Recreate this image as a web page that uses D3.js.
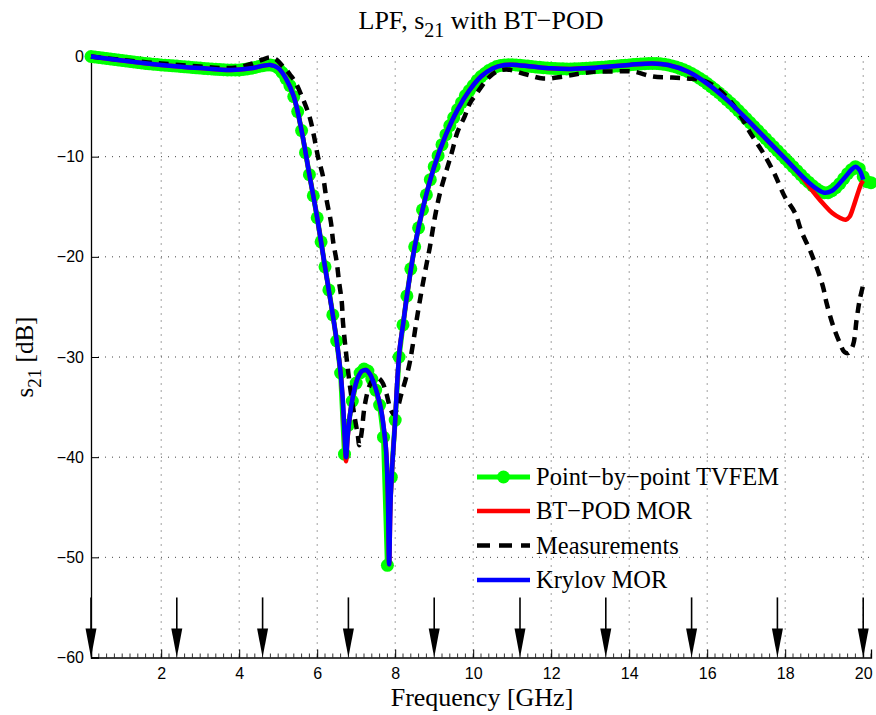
<!DOCTYPE html>
<html>
<head>
<meta charset="utf-8">
<script src="https://cdn.jsdelivr.net/npm/d3@7"></script>
<style>
  body { margin: 0; background: #fff; }
</style>
</head>
<body>
<div id="chart"></div>
<script>
// ---- data ----
// TVFEM sweep: 0.2 .. 20.2 GHz, 0.1 GHz step
var tvfemFreq = d3.range(0, 201).map(i => Math.round((0.2 + i * 0.1) * 10) / 10);
var tvfemDb = [
  0.0, -0.05, -0.1, -0.15, -0.2, -0.25, -0.3, -0.35, -0.4, -0.45,
  -0.5, -0.55, -0.6, -0.65, -0.7, -0.73, -0.77, -0.8, -0.84, -0.87,
  -0.9, -0.93, -0.96, -1.0, -1.03, -1.06, -1.1, -1.13, -1.16, -1.19,
  -1.22, -1.25, -1.28, -1.3, -1.32, -1.34, -1.35, -1.35, -1.34, -1.3,
  -1.25, -1.18, -1.1, -1.0, -0.92, -0.86, -0.84, -0.92, -1.15, -1.6,
  -2.2, -2.9, -4.0, -5.5, -7.4, -9.6, -11.8, -13.9, -16.1, -18.5,
  -21.0, -23.3, -25.8, -28.4, -31.6, -39.7, -36.8, -34.4, -32.6, -31.6,
  -31.2, -31.4, -32.2, -33.3, -34.8, -38.0, -50.8, -42.0, -36.3, -30.0,
  -26.8, -23.9, -21.2, -19.0, -17.1, -15.3, -13.8, -12.3, -11.0, -9.9,
  -8.8, -7.8, -6.9, -6.1, -5.3, -4.6, -3.9, -3.4, -2.9, -2.4,
  -2.0, -1.7, -1.4, -1.2, -1.0, -0.9, -0.85, -0.82, -0.82, -0.85,
  -0.88, -0.92, -0.96, -1.0, -1.04, -1.08, -1.12, -1.15, -1.18, -1.2,
  -1.22, -1.23, -1.24, -1.24, -1.23, -1.22, -1.2, -1.18, -1.16, -1.13,
  -1.1, -1.07, -1.04, -1.0, -0.97, -0.94, -0.9, -0.87, -0.84, -0.8,
  -0.77, -0.74, -0.72, -0.7, -0.69, -0.7, -0.73, -0.78, -0.85, -0.94,
  -1.05, -1.18, -1.33, -1.5, -1.7, -1.92, -2.16, -2.42, -2.7, -3.0,
  -3.3, -3.62, -3.95, -4.3, -4.65, -5.0, -5.4, -5.8, -6.2, -6.6,
  -7.0, -7.4, -7.8, -8.2, -8.6, -9.0, -9.4, -9.8, -10.2, -10.6,
  -11.0, -11.4, -11.8, -12.2, -12.55, -12.9, -13.2, -13.45, -13.6, -13.6,
  -13.4, -13.1, -12.7, -12.2, -11.7, -11.3, -11.0, -11.2, -12.0, -12.5,
  -12.6
];

var krylovFreq = [0.2, 1, 2, 3, 3.8, 4.3, 4.8, 5.0, 5.2, 5.4, 5.6, 5.8, 6.0, 6.2, 6.4, 6.5, 6.6, 6.66, 6.7, 6.74,
  6.78, 6.85, 6.95, 7.05, 7.15, 7.25, 7.35, 7.45, 7.55, 7.65, 7.72, 7.77, 7.81, 7.845, 7.88, 7.93, 8.0, 8.06, 8.12, 8.2,
  8.3, 8.5, 8.7, 9.0, 9.3, 9.6, 9.9, 10.2, 10.5, 10.8, 11.0, 11.5, 12.0, 12.5, 13.0, 13.5, 14.0, 14.6, 15.0, 15.5,
  16.0, 16.5, 17.0, 17.5, 18.0, 18.5, 18.8, 19.0, 19.2, 19.5, 19.7, 19.8, 19.9, 20.0];
var krylovDb = [0, -0.4, -0.84, -1.16, -1.35, -1.18, -0.84, -1.15, -2.2, -4.0, -7.4, -11.8, -16.1, -21.0, -25.8, -28.4, -31.6, -34.5, -37.5, -40.0,
  -38.0, -35.5, -33.3, -32.0, -31.4, -31.3, -31.7, -32.6, -33.8, -35.5, -37.5, -39.5, -43.5, -50.7, -44.5, -40.5, -36.3, -32.0, -29.0, -26.8,
  -23.9, -19.0, -15.3, -11.0, -7.8, -5.3, -3.4, -2.0, -1.2, -0.85, -0.82, -1.0, -1.18, -1.24, -1.16, -1.0, -0.84, -0.69, -0.85, -1.5,
  -2.7, -4.3, -6.2, -8.2, -10.2, -12.2, -13.2, -13.6, -13.4, -12.2, -11.3, -11.0, -11.3, -12.3];

var btpodFreq = [0.2, 1, 2, 3, 3.8, 4.3, 4.8, 5.0, 5.2, 5.4, 5.6, 5.8, 6.0, 6.2, 6.4, 6.5, 6.6, 6.66, 6.7, 6.74,
  6.78, 6.85, 6.95, 7.05, 7.15, 7.25, 7.35, 7.45, 7.55, 7.65, 7.72, 7.77, 7.81, 7.845, 7.88, 7.93, 8.0, 8.06, 8.12, 8.2,
  8.3, 8.5, 8.7, 9.0, 9.3, 9.6, 9.9, 10.2, 10.5, 10.8, 11.0, 11.5, 12.0, 12.5, 13.0, 13.5, 14.0, 14.6, 15.0, 15.5,
  16.0, 16.5, 17.0, 17.5, 18.0, 18.4, 18.6, 18.8, 19.0, 19.2, 19.4, 19.55, 19.65, 19.75, 19.85, 19.95, 20.0];
var btpodDb = [0, -0.4, -0.84, -1.16, -1.35, -1.18, -0.84, -1.15, -2.2, -4.0, -7.4, -11.8, -16.1, -21.0, -25.8, -28.4, -31.6, -34.6, -37.7, -40.4,
  -38.1, -35.5, -33.3, -32.0, -31.4, -31.3, -31.7, -32.6, -33.8, -35.5, -37.5, -39.5, -43.5, -50.7, -44.5, -40.5, -36.3, -32.0, -29.0, -26.8,
  -23.9, -19.0, -15.3, -11.0, -7.8, -5.3, -3.4, -2.0, -1.2, -0.85, -0.82, -1.0, -1.18, -1.24, -1.16, -1.0, -0.84, -0.69, -0.85, -1.5,
  -2.7, -4.3, -6.2, -8.2, -10.2, -11.9, -12.9, -13.9, -14.8, -15.6, -16.1, -16.3, -16.0, -15.0, -13.8, -12.7, -12.4];

var measFreq = [0.2, 1.0, 2.0, 3.0, 3.6, 4.0, 4.3, 4.6, 4.8, 4.95, 5.1, 5.2, 5.3, 5.43, 5.64, 5.81, 5.92, 6.02, 6.15, 6.24,
  6.35, 6.41, 6.5, 6.56, 6.63, 6.66, 6.71, 6.78, 6.86, 6.96, 7.04, 7.08, 7.14, 7.22, 7.35, 7.5, 7.65, 7.77, 7.88, 7.96,
  8.05, 8.15, 8.27, 8.36, 8.43, 8.55, 8.68, 8.81, 8.89, 9.02, 9.15, 9.32, 9.45, 9.6, 9.78, 9.91, 10.09, 10.35, 10.6, 10.86,
  11.37, 11.8, 12.3, 12.74, 13.17, 13.6, 14.1, 14.6, 15.1, 15.5, 15.9, 16.2, 16.58, 16.85, 17.1, 17.4, 17.7, 17.99, 18.25, 18.42,
  18.63, 18.8, 18.97, 19.06, 19.23, 19.4, 19.52, 19.62, 19.74, 19.83, 19.91, 20.0];
var measDb = [0, -0.35, -0.7, -1.0, -1.15, -1.05, -0.75, -0.3, -0.1, -0.3, -0.9, -1.3, -1.8, -2.5, -4.3, -6.1, -8.0, -10.0, -12.0, -14.3,
  -16.5, -18.5, -20.5, -22.5, -24.5, -26.5, -28.5, -31.0, -33.5, -36.0, -37.8, -38.8, -37.5, -34.8, -32.8, -32.0, -32.4, -33.6, -35.2, -35.7,
  -35.2, -33.8, -32.2, -30.8, -29.3, -26.3, -23.3, -20.6, -19.0, -16.0, -13.6, -11.3, -9.6, -7.5, -6.0, -4.7, -3.7, -2.3, -1.5, -1.3,
  -1.8, -2.2, -2.0, -1.7, -1.5, -1.5, -1.5, -2.0, -2.1, -2.2, -2.4, -3.0, -4.4, -5.9, -7.6, -9.4, -11.5, -14.0, -15.6, -17.5,
  -19.3, -21.0, -23.0, -24.6, -26.9, -28.6, -29.5, -29.6, -28.8, -26.3, -24.3, -22.8];

// expansion points (arrows)
var arrowFreq = [0.2, 2.4, 4.6, 6.8, 9.0, 11.2, 13.4, 15.6, 17.8, 20.0];

var xTicks = [2, 4, 6, 8, 10, 12, 14, 16, 18, 20];
var yTicks = [0, -10, -20, -30, -40, -50, -60];
var legendNames = ["Point\u2212by\u2212point TVFEM", "BT\u2212POD MOR", "Measurements", "Krylov MOR"];

// ---- canvas ----
var width = 876, height = 715;
var serif = "'Liberation Serif', 'Times New Roman', serif";
var svg = d3.select("#chart").append("svg")
    .attr("width", width)
    .attr("height", height)
    .style("font-family", "'Liberation Sans', Arial, sans-serif");

var x = d3.scaleLinear().domain([0.2, 20.2]).range([91, 871]);
var y = d3.scaleLinear().domain([-60, 0]).range([657.5, 56.5]);

// grid
var grid = svg.append("g").attr("stroke", "#444").attr("stroke-width", 1).attr("stroke-dasharray", "1,6");
grid.selectAll("line.gx").data(xTicks).join("line")
    .attr("x1", d => x(d)).attr("x2", d => x(d))
    .attr("y1", y(-60)).attr("y2", y(0));
grid.selectAll("line.gy").data(yTicks.slice(0, -1)).join("line")
    .attr("x1", x(0.2)).attr("x2", x(20.2))
    .attr("y1", d => y(d)).attr("y2", d => y(d));

// axes
var xAxis = svg.append("g")
    .attr("transform", "translate(0," + y(-60) + ")")
    .call(d3.axisBottom(x).tickValues(xTicks).tickSize(-8).tickPadding(10).tickFormat(d3.format("d")));
var yAxis = svg.append("g")
    .attr("transform", "translate(" + x(0.2) + ",0)")
    .call(d3.axisLeft(y).tickValues(yTicks).tickSize(-8).tickPadding(7));
[xAxis, yAxis].forEach(a => {
  a.select(".domain").attr("stroke", "#000").attr("stroke-width", 1.3);
  a.selectAll(".tick line").attr("stroke", "#000");
  a.selectAll(".tick text").attr("font-size", 16).attr("fill", "#000")
    .attr("font-family", "'Liberation Sans', Arial, sans-serif");
});
// minor ticks
svg.append("g").selectAll("line")
    .data(d3.range(1, 101).map(i => 0.2 + i * 0.2))
    .join("line")
    .attr("x1", d => x(d)).attr("x2", d => x(d))
    .attr("y1", y(-60)).attr("y2", y(-60) - 4)
    .attr("stroke", "#000").attr("stroke-width", 0.8);

// ---- series ----
function pairs(fs, vs) { return fs.map((f, i) => [f, vs[i]]); }

var lineLin = d3.line().x(d => x(d[0])).y(d => y(d[1]));
var lineSmooth = d3.line().x(d => x(d[0])).y(d => y(d[1])).curve(d3.curveCatmullRom.alpha(0.5));

var tvfem = pairs(tvfemFreq, tvfemDb);
svg.append("path").datum(tvfem)
    .attr("d", lineLin)
    .attr("fill", "none").attr("stroke", "#00ff00").attr("stroke-width", 5)
    .attr("stroke-linejoin", "round");
svg.append("g").selectAll("circle").data(tvfem).join("circle")
    .attr("cx", d => x(d[0])).attr("cy", d => y(d[1]))
    .attr("r", 6.5).attr("fill", "#00ff00");

svg.append("path").datum(pairs(btpodFreq, btpodDb))
    .attr("d", lineSmooth)
    .attr("fill", "none").attr("stroke", "#ff0000").attr("stroke-width", 4.5)
    .attr("stroke-linejoin", "round");

svg.append("path").datum(pairs(measFreq, measDb))
    .attr("d", lineSmooth)
    .attr("fill", "none").attr("stroke", "#000").attr("stroke-width", 4.5)
    .attr("stroke-dasharray", "10,7");

svg.append("path").datum(pairs(krylovFreq, krylovDb))
    .attr("d", lineSmooth)
    .attr("fill", "none").attr("stroke", "#0000ff").attr("stroke-width", 4.5)
    .attr("stroke-linejoin", "round");

// arrows
var arr = svg.append("g").selectAll("g").data(arrowFreq).join("g");
arr.append("line")
    .attr("x1", d => x(d)).attr("x2", d => x(d))
    .attr("y1", y(-54)).attr("y2", y(-58))
    .attr("stroke", "#000").attr("stroke-width", 1.6);
arr.append("path")
    .attr("d", d => "M" + (x(d) - 5.5) + "," + (y(-60) - 29) + "L" + (x(d) + 5.5) + "," + (y(-60) - 29) + "L" + x(d) + "," + y(-60) + "Z")
    .attr("fill", "#000");

// ---- legend ----
var legY = [477, 511, 545.5, 580];
var leg = svg.append("g").style("font-family", serif);
var legStyle = [
  {c: "#00ff00", dash: null, w: 5},
  {c: "#ff0000", dash: null, w: 4.5},
  {c: "#000", dash: "13,9", w: 4.5},
  {c: "#0000ff", dash: null, w: 4.5}
];
legendNames.forEach((name, i) => {
  leg.append("line")
    .attr("x1", 477).attr("x2", 530).attr("y1", legY[i]).attr("y2", legY[i])
    .attr("stroke", legStyle[i].c).attr("stroke-width", legStyle[i].w)
    .attr("stroke-dasharray", legStyle[i].dash);
  if (i == 0) leg.append("circle").attr("cx", 503.5).attr("cy", legY[i]).attr("r", 6.5).attr("fill", "#00ff00");
  leg.append("text").attr("x", 536).attr("y", legY[i] + 8)
    .attr("font-size", 24.5).text(name);
});

// ---- titles ----
var title = svg.append("text").attr("x", 481).attr("y", 29)
    .attr("text-anchor", "middle").attr("font-size", 26)
    .style("font-family", serif);
title.append("tspan").text("LPF, s");
title.append("tspan").attr("dy", 8).attr("font-size", 20).text("21");
title.append("tspan").attr("dy", -8).text(" with BT\u2212POD");

svg.append("text").attr("x", 482).attr("y", 706)
    .attr("text-anchor", "middle").attr("font-size", 26)
    .style("font-family", serif)
    .text("Frequency [GHz]");

var ylab = svg.append("text")
    .attr("transform", "translate(33,357) rotate(-90)")
    .attr("text-anchor", "middle").attr("font-size", 25)
    .style("font-family", serif);
ylab.append("tspan").text("s");
ylab.append("tspan").attr("dy", 8).attr("font-size", 19).text("21");
ylab.append("tspan").attr("dy", -8).text(" [dB]");
</script>
</body>
</html>
